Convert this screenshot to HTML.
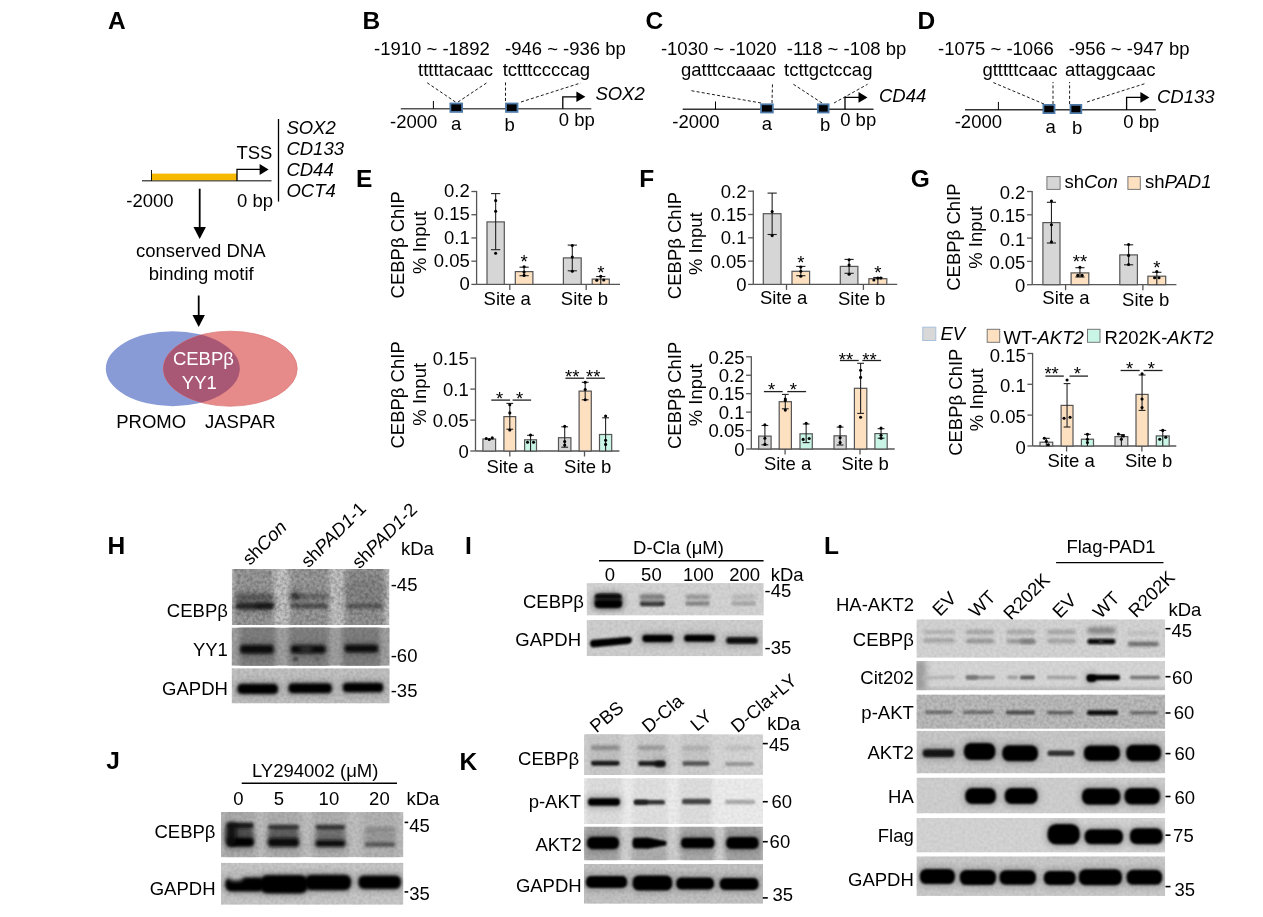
<!DOCTYPE html>
<html><head><meta charset="utf-8"><style>
html,body{margin:0;padding:0;background:#fff;width:1263px;height:917px;overflow:hidden}
svg{display:block;font-family:"Liberation Sans",sans-serif;will-change:transform}
</style></head><body>
<svg width="1263" height="917" viewBox="0 0 1263 917">
<text x="108.00" y="28.70" font-size="24.5" font-weight="bold" >A</text>
<line x1="142.00" y1="180.80" x2="271.50" y2="180.80" stroke="#555" stroke-width="1.4"/>
<rect x="151.50" y="173.60" width="85.50" height="6.60" fill="#f6b900"/>
<line x1="151.50" y1="170.00" x2="151.50" y2="181.00" stroke="#000" stroke-width="0.9"/>
<path d="M237.00 181.00 V169.40 H260.60" fill="none" stroke="#000" stroke-width="1.3"/>
<path d="M259.60 163.90 L268.60 169.40 L259.60 174.90 Z" fill="#000"/>
<text x="236.40" y="159.00" font-size="18.5" >TSS</text>
<line x1="278.50" y1="119.00" x2="278.50" y2="201.60" stroke="#000" stroke-width="1.3"/>
<text x="286.40" y="133.70" font-size="18.5" font-style="italic" >SOX2</text>
<text x="286.40" y="155.20" font-size="18.5" font-style="italic" >CD133</text>
<text x="286.40" y="176.40" font-size="18.5" font-style="italic" >CD44</text>
<text x="286.40" y="197.40" font-size="18.5" font-style="italic" >OCT4</text>
<text x="126.30" y="206.50" font-size="18.5" >-2000</text>
<text x="237.00" y="206.50" font-size="18.5" >0 bp</text>
<line x1="199.70" y1="188.70" x2="199.70" y2="228.00" stroke="#000" stroke-width="1.8"/>
<path d="M193.50 227.00 L205.90 227.00 L199.70 239.00 Z" fill="#000"/>
<text x="200.80" y="256.70" font-size="18.5" text-anchor="middle" >conserved DNA</text>
<text x="201.20" y="279.60" font-size="18.5" text-anchor="middle" >binding motif</text>
<line x1="198.70" y1="295.50" x2="198.70" y2="316.00" stroke="#000" stroke-width="1.8"/>
<path d="M192.50 315.00 L204.90 315.00 L198.70 327.00 Z" fill="#000"/>
<defs><clipPath id="cpBlue"><ellipse cx="172.8" cy="368.7" rx="67" ry="37.5"/></clipPath></defs>
<ellipse cx="172.8" cy="368.7" rx="67" ry="37.5" fill="#899bd6"/>
<ellipse cx="230.2" cy="368.7" rx="67" ry="37.5" fill="#e68a8a" stroke="#dd7c7c" stroke-width="0.8"/>
<ellipse cx="230.2" cy="368.7" rx="67" ry="37.5" fill="#a85775" clip-path="url(#cpBlue)"/>
<text x="203.40" y="364.90" font-size="18.5" text-anchor="middle" fill="#fff" >CEBPβ</text>
<text x="199.30" y="388.70" font-size="18.5" text-anchor="middle" fill="#fff" >YY1</text>
<text x="116.20" y="428.20" font-size="18.5" >PROMO</text>
<text x="205.00" y="428.20" font-size="18.5" >JASPAR</text>
<text x="362.60" y="28.70" font-size="24.5" font-weight="bold" >B</text>
<text x="374.00" y="54.50" font-size="18.5" >-1910 ~ -1892</text>
<text x="505.00" y="54.50" font-size="18.5" >-946 ~ -936 bp</text>
<text x="418.00" y="75.50" font-size="18.5" >tttttacaac</text>
<text x="502.70" y="75.50" font-size="18.5" >tctttccccag</text>
<line x1="400.80" y1="108.80" x2="591.30" y2="108.80" stroke="#555" stroke-width="1.4"/>
<line x1="433.40" y1="101.00" x2="433.40" y2="108.80" stroke="#000" stroke-width="1.0"/>
<line x1="455.50" y1="102.00" x2="426.00" y2="82.00" stroke="#000" stroke-width="0.9" stroke-dasharray="3,2.2"/>
<line x1="458.00" y1="102.00" x2="488.00" y2="82.00" stroke="#000" stroke-width="0.9" stroke-dasharray="3,2.2"/>
<line x1="505.50" y1="101.00" x2="505.50" y2="82.00" stroke="#000" stroke-width="0.9" stroke-dasharray="3,2.2"/>
<line x1="521.00" y1="102.00" x2="580.70" y2="83.00" stroke="#000" stroke-width="0.9" stroke-dasharray="3,2.2"/>
<rect x="450.40" y="103.50" width="11.70" height="8.40" fill="#000" stroke="#4d79a8" stroke-width="1.8"/>
<rect x="506.00" y="103.50" width="11.50" height="8.40" fill="#000" stroke="#4d79a8" stroke-width="1.8"/>
<path d="M562.80 108.80 V96.80 H577.40" fill="none" stroke="#000" stroke-width="1.3"/>
<path d="M576.40 91.50 L585.40 96.80 L576.40 102.10 Z" fill="#000"/>
<text x="595.40" y="99.80" font-size="18.5" font-style="italic" >SOX2</text>
<text x="390.00" y="128.30" font-size="18.5" >-2000</text>
<text x="451.00" y="129.50" font-size="18.5" >a</text>
<text x="504.60" y="130.60" font-size="18.5" >b</text>
<text x="558.80" y="125.90" font-size="18.5" >0 bp</text>
<text x="645.40" y="28.70" font-size="24.5" font-weight="bold" >C</text>
<text x="660.90" y="54.50" font-size="18.5" >-1030 ~ -1020</text>
<text x="786.80" y="54.50" font-size="18.5" >-118 ~ -108 bp</text>
<text x="681.00" y="75.50" font-size="18.5" >gatttccaaac</text>
<text x="784.00" y="75.50" font-size="18.5" >tcttgctccag</text>
<line x1="682.70" y1="109.30" x2="873.50" y2="109.30" stroke="#333" stroke-width="1.4"/>
<line x1="715.50" y1="101.50" x2="715.50" y2="109.30" stroke="#000" stroke-width="1.0"/>
<line x1="761.00" y1="103.00" x2="691.30" y2="90.70" stroke="#000" stroke-width="0.9" stroke-dasharray="3,2.2"/>
<line x1="772.00" y1="103.00" x2="772.50" y2="83.60" stroke="#000" stroke-width="0.9" stroke-dasharray="3,2.2"/>
<line x1="822.00" y1="103.00" x2="791.50" y2="83.00" stroke="#000" stroke-width="0.9" stroke-dasharray="3,2.2"/>
<line x1="834.00" y1="103.00" x2="867.50" y2="84.30" stroke="#000" stroke-width="0.9" stroke-dasharray="3,2.2"/>
<rect x="761.10" y="104.30" width="11.70" height="8.20" fill="#000" stroke="#4d79a8" stroke-width="1.8"/>
<rect x="817.90" y="104.30" width="10.70" height="8.20" fill="#000" stroke="#4d79a8" stroke-width="1.8"/>
<path d="M845.00 109.30 V97.40 H859.50" fill="none" stroke="#000" stroke-width="1.3"/>
<path d="M858.50 92.10 L867.50 97.40 L858.50 102.70 Z" fill="#000"/>
<text x="879.00" y="102.00" font-size="18.5" font-style="italic" >CD44</text>
<text x="672.30" y="128.30" font-size="18.5" >-2000</text>
<text x="761.80" y="130.00" font-size="18.5" >a</text>
<text x="820.00" y="131.00" font-size="18.5" >b</text>
<text x="840.20" y="126.00" font-size="18.5" >0 bp</text>
<text x="917.60" y="28.70" font-size="24.5" font-weight="bold" >D</text>
<text x="938.00" y="54.50" font-size="18.5" >-1075 ~ -1066</text>
<text x="1068.70" y="54.50" font-size="18.5" >-956 ~ -947 bp</text>
<text x="982.40" y="75.50" font-size="18.5" >gtttttcaac</text>
<text x="1064.90" y="75.50" font-size="18.5" >attaggcaac</text>
<line x1="965.00" y1="109.70" x2="1155.80" y2="109.70" stroke="#333" stroke-width="1.4"/>
<line x1="998.40" y1="101.90" x2="998.40" y2="109.70" stroke="#000" stroke-width="1.0"/>
<line x1="1044.00" y1="104.00" x2="992.00" y2="82.00" stroke="#000" stroke-width="0.9" stroke-dasharray="3,2.2"/>
<line x1="1053.00" y1="104.00" x2="1053.00" y2="82.00" stroke="#000" stroke-width="0.9" stroke-dasharray="3,2.2"/>
<line x1="1069.60" y1="104.00" x2="1069.60" y2="82.00" stroke="#000" stroke-width="0.9" stroke-dasharray="3,2.2"/>
<line x1="1087.00" y1="102.00" x2="1145.00" y2="83.60" stroke="#000" stroke-width="0.9" stroke-dasharray="3,2.2"/>
<rect x="1043.40" y="104.90" width="11.10" height="8.20" fill="#000" stroke="#4d79a8" stroke-width="1.8"/>
<rect x="1070.50" y="104.90" width="10.80" height="8.20" fill="#000" stroke="#4d79a8" stroke-width="1.8"/>
<path d="M1126.60 109.70 V97.40 H1141.40" fill="none" stroke="#000" stroke-width="1.3"/>
<path d="M1140.40 92.10 L1149.40 97.40 L1140.40 102.70 Z" fill="#000"/>
<text x="1157.00" y="103.30" font-size="18.5" font-style="italic" >CD133</text>
<text x="954.70" y="128.30" font-size="18.5" >-2000</text>
<text x="1045.40" y="133.00" font-size="18.5" >a</text>
<text x="1072.00" y="134.00" font-size="18.5" >b</text>
<text x="1123.30" y="127.50" font-size="18.5" >0 bp</text>
<text x="356.00" y="186.60" font-size="24.5" font-weight="bold" >E</text>
<line x1="476.60" y1="190.90" x2="476.60" y2="284.40" stroke="#555" stroke-width="1.3"/>
<line x1="476.60" y1="284.40" x2="620.00" y2="284.40" stroke="#555" stroke-width="1.3"/>
<line x1="471.40" y1="191.50" x2="476.60" y2="191.50" stroke="#555" stroke-width="1.3"/>
<text x="469.80" y="197.10" font-size="18.5" text-anchor="end" >0.2</text>
<line x1="471.40" y1="214.72" x2="476.60" y2="214.72" stroke="#555" stroke-width="1.3"/>
<text x="469.80" y="220.32" font-size="18.5" text-anchor="end" >0.15</text>
<line x1="471.40" y1="237.95" x2="476.60" y2="237.95" stroke="#555" stroke-width="1.3"/>
<text x="469.80" y="243.55" font-size="18.5" text-anchor="end" >0.1</text>
<line x1="471.40" y1="261.18" x2="476.60" y2="261.18" stroke="#555" stroke-width="1.3"/>
<text x="469.80" y="266.78" font-size="18.5" text-anchor="end" >0.05</text>
<line x1="471.40" y1="284.40" x2="476.60" y2="284.40" stroke="#555" stroke-width="1.3"/>
<text x="469.80" y="290.00" font-size="18.5" text-anchor="end" >0</text>
<line x1="509.80" y1="284.40" x2="509.80" y2="289.90" stroke="#555" stroke-width="1.3"/>
<line x1="586.20" y1="284.40" x2="586.20" y2="289.90" stroke="#555" stroke-width="1.3"/>
<rect x="487.00" y="221.90" width="17.30" height="62.50" fill="#d6d6d6" stroke="#555" stroke-width="1.2"/>
<line x1="495.65" y1="193.60" x2="495.65" y2="249.70" stroke="#222" stroke-width="1.1"/>
<line x1="491.05" y1="193.60" x2="500.25" y2="193.60" stroke="#222" stroke-width="1.1"/>
<line x1="491.05" y1="249.70" x2="500.25" y2="249.70" stroke="#222" stroke-width="1.1"/>
<circle cx="495.65" cy="200.60" r="1.55" fill="#000"/>
<circle cx="495.65" cy="211.30" r="1.55" fill="#000"/>
<circle cx="495.65" cy="253.30" r="1.55" fill="#000"/>
<rect x="515.30" y="271.60" width="17.60" height="12.80" fill="#fde0c0" stroke="#555" stroke-width="1.2"/>
<line x1="524.10" y1="267.20" x2="524.10" y2="275.70" stroke="#222" stroke-width="1.1"/>
<line x1="519.50" y1="267.20" x2="528.70" y2="267.20" stroke="#222" stroke-width="1.1"/>
<line x1="519.50" y1="275.70" x2="528.70" y2="275.70" stroke="#222" stroke-width="1.1"/>
<circle cx="524.10" cy="266.70" r="1.55" fill="#000"/>
<circle cx="524.10" cy="272.10" r="1.55" fill="#000"/>
<circle cx="524.10" cy="275.40" r="1.55" fill="#000"/>
<text x="524.10" y="267.50" font-size="18.5" text-anchor="middle" >*</text>
<rect x="563.40" y="257.90" width="17.80" height="26.50" fill="#d6d6d6" stroke="#555" stroke-width="1.2"/>
<line x1="572.30" y1="245.10" x2="572.30" y2="270.80" stroke="#222" stroke-width="1.1"/>
<line x1="567.70" y1="245.10" x2="576.90" y2="245.10" stroke="#222" stroke-width="1.1"/>
<line x1="567.70" y1="270.80" x2="576.90" y2="270.80" stroke="#222" stroke-width="1.1"/>
<circle cx="572.30" cy="245.50" r="1.55" fill="#000"/>
<circle cx="572.30" cy="257.10" r="1.55" fill="#000"/>
<circle cx="572.30" cy="271.30" r="1.55" fill="#000"/>
<rect x="592.20" y="279.10" width="17.10" height="5.30" fill="#fde0c0" stroke="#555" stroke-width="1.2"/>
<line x1="600.75" y1="276.50" x2="600.75" y2="284.40" stroke="#222" stroke-width="1.1"/>
<line x1="596.15" y1="276.50" x2="605.35" y2="276.50" stroke="#222" stroke-width="1.1"/>
<circle cx="596.75" cy="280.30" r="1.55" fill="#000"/>
<circle cx="600.75" cy="276.20" r="1.55" fill="#000"/>
<circle cx="603.75" cy="280.00" r="1.55" fill="#000"/>
<text x="600.75" y="279.30" font-size="18.5" text-anchor="middle" >*</text>
<text x="483.60" y="304.80" font-size="18.5" >Site a</text>
<text x="560.80" y="304.80" font-size="18.5" >Site b</text>
<text x="403.60" y="244.80" font-size="18.5" text-anchor="middle" transform="rotate(-90 403.60 244.80)" >CEBPβ ChIP</text>
<text x="425.80" y="242.50" font-size="18.5" text-anchor="middle" transform="rotate(-90 425.80 242.50)" >% Input</text>
<line x1="475.50" y1="357.50" x2="475.50" y2="451.00" stroke="#555" stroke-width="1.3"/>
<line x1="475.50" y1="451.00" x2="619.40" y2="451.00" stroke="#555" stroke-width="1.3"/>
<line x1="470.30" y1="358.10" x2="475.50" y2="358.10" stroke="#555" stroke-width="1.3"/>
<text x="468.70" y="365.10" font-size="18.5" text-anchor="end" >0.15</text>
<line x1="470.30" y1="389.10" x2="475.50" y2="389.10" stroke="#555" stroke-width="1.3"/>
<text x="468.70" y="396.10" font-size="18.5" text-anchor="end" >0.1</text>
<line x1="470.30" y1="420.10" x2="475.50" y2="420.10" stroke="#555" stroke-width="1.3"/>
<text x="468.70" y="427.10" font-size="18.5" text-anchor="end" >0.05</text>
<line x1="470.30" y1="451.00" x2="475.50" y2="451.00" stroke="#555" stroke-width="1.3"/>
<text x="468.70" y="458.00" font-size="18.5" text-anchor="end" >0</text>
<line x1="509.80" y1="451.00" x2="509.80" y2="456.50" stroke="#555" stroke-width="1.3"/>
<line x1="584.50" y1="451.00" x2="584.50" y2="456.50" stroke="#555" stroke-width="1.3"/>
<rect x="482.90" y="439.00" width="12.70" height="12.00" fill="#d6d6d6" stroke="#555" stroke-width="1.2"/>
<circle cx="486.25" cy="438.50" r="1.55" fill="#000"/>
<circle cx="489.25" cy="439.50" r="1.55" fill="#000"/>
<circle cx="492.25" cy="437.90" r="1.55" fill="#000"/>
<rect x="503.90" y="416.60" width="11.80" height="34.40" fill="#fde0c0" stroke="#555" stroke-width="1.2"/>
<line x1="509.80" y1="403.40" x2="509.80" y2="429.20" stroke="#222" stroke-width="1.1"/>
<line x1="506.40" y1="403.40" x2="513.20" y2="403.40" stroke="#222" stroke-width="1.1"/>
<line x1="506.40" y1="429.20" x2="513.20" y2="429.20" stroke="#222" stroke-width="1.1"/>
<circle cx="509.80" cy="404.70" r="1.55" fill="#000"/>
<circle cx="509.80" cy="412.90" r="1.55" fill="#000"/>
<circle cx="509.80" cy="430.00" r="1.55" fill="#000"/>
<rect x="524.60" y="439.80" width="11.90" height="11.20" fill="#c8f5e6" stroke="#555" stroke-width="1.2"/>
<line x1="530.55" y1="435.30" x2="530.55" y2="451.00" stroke="#222" stroke-width="1.1"/>
<line x1="527.15" y1="435.30" x2="533.95" y2="435.30" stroke="#222" stroke-width="1.1"/>
<circle cx="530.55" cy="435.00" r="1.55" fill="#000"/>
<circle cx="527.55" cy="442.30" r="1.55" fill="#000"/>
<circle cx="533.55" cy="442.30" r="1.55" fill="#000"/>
<rect x="558.50" y="437.70" width="12.40" height="13.30" fill="#d6d6d6" stroke="#555" stroke-width="1.2"/>
<line x1="564.70" y1="426.80" x2="564.70" y2="447.20" stroke="#222" stroke-width="1.1"/>
<line x1="561.30" y1="426.80" x2="568.10" y2="426.80" stroke="#222" stroke-width="1.1"/>
<line x1="561.30" y1="447.20" x2="568.10" y2="447.20" stroke="#222" stroke-width="1.1"/>
<circle cx="564.70" cy="426.30" r="1.55" fill="#000"/>
<circle cx="564.70" cy="441.50" r="1.55" fill="#000"/>
<circle cx="564.70" cy="445.10" r="1.55" fill="#000"/>
<rect x="579.10" y="391.10" width="12.20" height="59.90" fill="#fde0c0" stroke="#555" stroke-width="1.2"/>
<line x1="585.20" y1="382.30" x2="585.20" y2="399.80" stroke="#222" stroke-width="1.1"/>
<line x1="581.80" y1="382.30" x2="588.60" y2="382.30" stroke="#222" stroke-width="1.1"/>
<line x1="581.80" y1="399.80" x2="588.60" y2="399.80" stroke="#222" stroke-width="1.1"/>
<circle cx="585.20" cy="382.30" r="1.55" fill="#000"/>
<circle cx="585.20" cy="389.50" r="1.55" fill="#000"/>
<circle cx="585.20" cy="399.80" r="1.55" fill="#000"/>
<rect x="599.50" y="434.50" width="12.20" height="16.50" fill="#c8f5e6" stroke="#555" stroke-width="1.2"/>
<line x1="605.60" y1="417.80" x2="605.60" y2="451.00" stroke="#222" stroke-width="1.1"/>
<line x1="602.20" y1="417.80" x2="609.00" y2="417.80" stroke="#222" stroke-width="1.1"/>
<circle cx="605.60" cy="416.10" r="1.55" fill="#000"/>
<circle cx="605.60" cy="440.20" r="1.55" fill="#000"/>
<circle cx="605.60" cy="444.40" r="1.55" fill="#000"/>
<line x1="491.30" y1="400.10" x2="510.10" y2="400.10" stroke="#222" stroke-width="1.3"/>
<text x="499.50" y="404.80" font-size="18.5" text-anchor="middle" >*</text>
<line x1="512.60" y1="400.10" x2="531.10" y2="400.10" stroke="#222" stroke-width="1.3"/>
<text x="519.60" y="404.80" font-size="18.5" text-anchor="middle" >*</text>
<line x1="565.40" y1="378.20" x2="584.20" y2="378.20" stroke="#222" stroke-width="1.3"/>
<text x="572.30" y="383.10" font-size="18.5" text-anchor="middle" >**</text>
<line x1="586.20" y1="378.20" x2="605.00" y2="378.20" stroke="#222" stroke-width="1.3"/>
<text x="593.20" y="383.10" font-size="18.5" text-anchor="middle" >**</text>
<text x="486.40" y="473.40" font-size="18.5" >Site a</text>
<text x="564.10" y="473.40" font-size="18.5" >Site b</text>
<text x="403.60" y="394.90" font-size="18.5" text-anchor="middle" transform="rotate(-90 403.60 394.90)" >CEBPβ ChIP</text>
<text x="425.80" y="394.30" font-size="18.5" text-anchor="middle" transform="rotate(-90 425.80 394.30)" >% Input</text>
<text x="639.30" y="186.60" font-size="24.5" font-weight="bold" >F</text>
<line x1="753.30" y1="190.60" x2="753.30" y2="284.40" stroke="#555" stroke-width="1.3"/>
<line x1="753.30" y1="284.40" x2="897.20" y2="284.40" stroke="#555" stroke-width="1.3"/>
<line x1="748.10" y1="191.20" x2="753.30" y2="191.20" stroke="#555" stroke-width="1.3"/>
<text x="746.50" y="197.70" font-size="18.5" text-anchor="end" >0.2</text>
<line x1="748.10" y1="214.50" x2="753.30" y2="214.50" stroke="#555" stroke-width="1.3"/>
<text x="746.50" y="221.00" font-size="18.5" text-anchor="end" >0.15</text>
<line x1="748.10" y1="237.80" x2="753.30" y2="237.80" stroke="#555" stroke-width="1.3"/>
<text x="746.50" y="244.30" font-size="18.5" text-anchor="end" >0.1</text>
<line x1="748.10" y1="261.10" x2="753.30" y2="261.10" stroke="#555" stroke-width="1.3"/>
<text x="746.50" y="267.60" font-size="18.5" text-anchor="end" >0.05</text>
<line x1="748.10" y1="284.40" x2="753.30" y2="284.40" stroke="#555" stroke-width="1.3"/>
<text x="746.50" y="290.90" font-size="18.5" text-anchor="end" >0</text>
<line x1="786.50" y1="284.40" x2="786.50" y2="289.90" stroke="#555" stroke-width="1.3"/>
<line x1="863.40" y1="284.40" x2="863.40" y2="289.90" stroke="#555" stroke-width="1.3"/>
<rect x="763.30" y="213.70" width="17.70" height="70.70" fill="#d6d6d6" stroke="#555" stroke-width="1.2"/>
<line x1="772.15" y1="193.10" x2="772.15" y2="234.50" stroke="#222" stroke-width="1.1"/>
<line x1="767.55" y1="193.10" x2="776.75" y2="193.10" stroke="#222" stroke-width="1.1"/>
<line x1="767.55" y1="234.50" x2="776.75" y2="234.50" stroke="#222" stroke-width="1.1"/>
<circle cx="772.15" cy="211.60" r="1.55" fill="#000"/>
<circle cx="772.15" cy="235.60" r="1.55" fill="#000"/>
<rect x="792.00" y="271.30" width="17.60" height="13.10" fill="#fde0c0" stroke="#555" stroke-width="1.2"/>
<line x1="800.80" y1="266.40" x2="800.80" y2="275.70" stroke="#222" stroke-width="1.1"/>
<line x1="796.20" y1="266.40" x2="805.40" y2="266.40" stroke="#222" stroke-width="1.1"/>
<line x1="796.20" y1="275.70" x2="805.40" y2="275.70" stroke="#222" stroke-width="1.1"/>
<circle cx="800.80" cy="267.00" r="1.55" fill="#000"/>
<circle cx="800.80" cy="271.30" r="1.55" fill="#000"/>
<circle cx="800.80" cy="276.20" r="1.55" fill="#000"/>
<text x="800.80" y="269.30" font-size="18.5" text-anchor="middle" >*</text>
<rect x="840.30" y="266.40" width="17.60" height="18.00" fill="#d6d6d6" stroke="#555" stroke-width="1.2"/>
<line x1="849.10" y1="259.40" x2="849.10" y2="273.30" stroke="#222" stroke-width="1.1"/>
<line x1="844.50" y1="259.40" x2="853.70" y2="259.40" stroke="#222" stroke-width="1.1"/>
<line x1="844.50" y1="273.30" x2="853.70" y2="273.30" stroke="#222" stroke-width="1.1"/>
<circle cx="849.10" cy="259.80" r="1.55" fill="#000"/>
<circle cx="849.10" cy="265.10" r="1.55" fill="#000"/>
<circle cx="849.10" cy="274.20" r="1.55" fill="#000"/>
<rect x="868.90" y="278.70" width="17.90" height="5.70" fill="#fde0c0" stroke="#555" stroke-width="1.2"/>
<line x1="877.85" y1="277.50" x2="877.85" y2="284.40" stroke="#222" stroke-width="1.1"/>
<line x1="873.25" y1="277.50" x2="882.45" y2="277.50" stroke="#222" stroke-width="1.1"/>
<circle cx="873.85" cy="280.00" r="1.55" fill="#000"/>
<circle cx="877.85" cy="278.00" r="1.55" fill="#000"/>
<circle cx="880.85" cy="278.00" r="1.55" fill="#000"/>
<text x="877.85" y="279.40" font-size="18.5" text-anchor="middle" >*</text>
<text x="759.90" y="304.00" font-size="18.5" >Site a</text>
<text x="838.00" y="305.30" font-size="18.5" >Site b</text>
<text x="680.60" y="245.50" font-size="18.5" text-anchor="middle" transform="rotate(-90 680.60 245.50)" >CEBPβ ChIP</text>
<text x="702.40" y="243.70" font-size="18.5" text-anchor="middle" transform="rotate(-90 702.40 243.70)" >% Input</text>
<line x1="751.30" y1="356.20" x2="751.30" y2="449.00" stroke="#555" stroke-width="1.3"/>
<line x1="751.30" y1="449.00" x2="894.70" y2="449.00" stroke="#555" stroke-width="1.3"/>
<line x1="746.10" y1="356.80" x2="751.30" y2="356.80" stroke="#555" stroke-width="1.3"/>
<text x="744.50" y="363.60" font-size="18.5" text-anchor="end" >0.25</text>
<line x1="746.10" y1="375.24" x2="751.30" y2="375.24" stroke="#555" stroke-width="1.3"/>
<text x="744.50" y="382.04" font-size="18.5" text-anchor="end" >0.2</text>
<line x1="746.10" y1="393.68" x2="751.30" y2="393.68" stroke="#555" stroke-width="1.3"/>
<text x="744.50" y="400.48" font-size="18.5" text-anchor="end" >0.15</text>
<line x1="746.10" y1="412.12" x2="751.30" y2="412.12" stroke="#555" stroke-width="1.3"/>
<text x="744.50" y="418.92" font-size="18.5" text-anchor="end" >0.1</text>
<line x1="746.10" y1="430.56" x2="751.30" y2="430.56" stroke="#555" stroke-width="1.3"/>
<text x="744.50" y="437.36" font-size="18.5" text-anchor="end" >0.05</text>
<line x1="746.10" y1="449.00" x2="751.30" y2="449.00" stroke="#555" stroke-width="1.3"/>
<text x="744.50" y="455.80" font-size="18.5" text-anchor="end" >0</text>
<line x1="785.10" y1="449.00" x2="785.10" y2="454.50" stroke="#555" stroke-width="1.3"/>
<line x1="860.00" y1="449.00" x2="860.00" y2="454.50" stroke="#555" stroke-width="1.3"/>
<rect x="758.70" y="436.10" width="12.40" height="12.90" fill="#d6d6d6" stroke="#555" stroke-width="1.2"/>
<line x1="764.90" y1="425.50" x2="764.90" y2="444.80" stroke="#222" stroke-width="1.1"/>
<line x1="761.50" y1="425.50" x2="768.30" y2="425.50" stroke="#222" stroke-width="1.1"/>
<line x1="761.50" y1="444.80" x2="768.30" y2="444.80" stroke="#222" stroke-width="1.1"/>
<circle cx="764.90" cy="424.80" r="1.55" fill="#000"/>
<circle cx="764.90" cy="438.20" r="1.55" fill="#000"/>
<circle cx="764.90" cy="444.40" r="1.55" fill="#000"/>
<rect x="779.20" y="401.70" width="12.20" height="47.30" fill="#fde0c0" stroke="#555" stroke-width="1.2"/>
<line x1="785.30" y1="394.40" x2="785.30" y2="408.80" stroke="#222" stroke-width="1.1"/>
<line x1="781.90" y1="394.40" x2="788.70" y2="394.40" stroke="#222" stroke-width="1.1"/>
<line x1="781.90" y1="408.80" x2="788.70" y2="408.80" stroke="#222" stroke-width="1.1"/>
<circle cx="785.30" cy="399.00" r="1.55" fill="#000"/>
<circle cx="785.30" cy="400.60" r="1.55" fill="#000"/>
<circle cx="785.30" cy="410.10" r="1.55" fill="#000"/>
<rect x="800.00" y="433.80" width="12.30" height="15.20" fill="#c8f5e6" stroke="#555" stroke-width="1.2"/>
<line x1="806.15" y1="424.00" x2="806.15" y2="442.60" stroke="#222" stroke-width="1.1"/>
<line x1="802.75" y1="424.00" x2="809.55" y2="424.00" stroke="#222" stroke-width="1.1"/>
<line x1="802.75" y1="442.60" x2="809.55" y2="442.60" stroke="#222" stroke-width="1.1"/>
<circle cx="806.15" cy="423.20" r="1.55" fill="#000"/>
<circle cx="803.15" cy="439.40" r="1.55" fill="#000"/>
<circle cx="809.15" cy="438.50" r="1.55" fill="#000"/>
<rect x="834.00" y="435.80" width="12.20" height="13.20" fill="#d6d6d6" stroke="#555" stroke-width="1.2"/>
<line x1="840.10" y1="427.10" x2="840.10" y2="445.00" stroke="#222" stroke-width="1.1"/>
<line x1="836.70" y1="427.10" x2="843.50" y2="427.10" stroke="#222" stroke-width="1.1"/>
<line x1="836.70" y1="445.00" x2="843.50" y2="445.00" stroke="#222" stroke-width="1.1"/>
<circle cx="840.10" cy="426.40" r="1.55" fill="#000"/>
<circle cx="840.10" cy="437.70" r="1.55" fill="#000"/>
<circle cx="840.10" cy="442.60" r="1.55" fill="#000"/>
<rect x="854.40" y="388.30" width="12.40" height="60.70" fill="#fde0c0" stroke="#555" stroke-width="1.2"/>
<line x1="860.60" y1="363.30" x2="860.60" y2="413.40" stroke="#222" stroke-width="1.1"/>
<line x1="857.20" y1="363.30" x2="864.00" y2="363.30" stroke="#222" stroke-width="1.1"/>
<line x1="857.20" y1="413.40" x2="864.00" y2="413.40" stroke="#222" stroke-width="1.1"/>
<circle cx="860.60" cy="370.30" r="1.55" fill="#000"/>
<circle cx="860.60" cy="377.40" r="1.55" fill="#000"/>
<circle cx="860.60" cy="417.30" r="1.55" fill="#000"/>
<rect x="874.90" y="433.60" width="12.30" height="15.40" fill="#c8f5e6" stroke="#555" stroke-width="1.2"/>
<line x1="881.05" y1="428.70" x2="881.05" y2="438.20" stroke="#222" stroke-width="1.1"/>
<line x1="877.65" y1="428.70" x2="884.45" y2="428.70" stroke="#222" stroke-width="1.1"/>
<line x1="877.65" y1="438.20" x2="884.45" y2="438.20" stroke="#222" stroke-width="1.1"/>
<circle cx="881.05" cy="428.10" r="1.55" fill="#000"/>
<circle cx="881.05" cy="435.30" r="1.55" fill="#000"/>
<circle cx="881.05" cy="438.20" r="1.55" fill="#000"/>
<line x1="763.90" y1="391.60" x2="782.70" y2="391.60" stroke="#222" stroke-width="1.3"/>
<text x="771.70" y="395.70" font-size="18.5" text-anchor="middle" >*</text>
<line x1="787.30" y1="391.60" x2="806.10" y2="391.60" stroke="#222" stroke-width="1.3"/>
<text x="793.30" y="395.70" font-size="18.5" text-anchor="middle" >*</text>
<line x1="839.90" y1="360.50" x2="858.70" y2="360.50" stroke="#222" stroke-width="1.3"/>
<text x="846.00" y="365.70" font-size="18.5" text-anchor="middle" >**</text>
<line x1="862.30" y1="360.50" x2="881.10" y2="360.50" stroke="#222" stroke-width="1.3"/>
<text x="869.40" y="365.70" font-size="18.5" text-anchor="middle" >**</text>
<text x="763.90" y="470.10" font-size="18.5" >Site a</text>
<text x="841.50" y="470.10" font-size="18.5" >Site b</text>
<text x="680.60" y="395.40" font-size="18.5" text-anchor="middle" transform="rotate(-90 680.60 395.40)" >CEBPβ ChIP</text>
<text x="702.40" y="394.90" font-size="18.5" text-anchor="middle" transform="rotate(-90 702.40 394.90)" >% Input</text>
<text x="910.80" y="186.60" font-size="24.5" font-weight="bold" >G</text>
<line x1="1032.20" y1="190.90" x2="1032.20" y2="284.70" stroke="#555" stroke-width="1.3"/>
<line x1="1032.20" y1="284.70" x2="1176.40" y2="284.70" stroke="#555" stroke-width="1.3"/>
<line x1="1027.00" y1="191.50" x2="1032.20" y2="191.50" stroke="#555" stroke-width="1.3"/>
<text x="1025.40" y="199.00" font-size="18.5" text-anchor="end" >0.2</text>
<line x1="1027.00" y1="214.80" x2="1032.20" y2="214.80" stroke="#555" stroke-width="1.3"/>
<text x="1025.40" y="222.30" font-size="18.5" text-anchor="end" >0.15</text>
<line x1="1027.00" y1="238.10" x2="1032.20" y2="238.10" stroke="#555" stroke-width="1.3"/>
<text x="1025.40" y="245.60" font-size="18.5" text-anchor="end" >0.1</text>
<line x1="1027.00" y1="261.40" x2="1032.20" y2="261.40" stroke="#555" stroke-width="1.3"/>
<text x="1025.40" y="268.90" font-size="18.5" text-anchor="end" >0.05</text>
<line x1="1027.00" y1="284.70" x2="1032.20" y2="284.70" stroke="#555" stroke-width="1.3"/>
<text x="1025.40" y="292.20" font-size="18.5" text-anchor="end" >0</text>
<line x1="1065.60" y1="284.70" x2="1065.60" y2="290.20" stroke="#555" stroke-width="1.3"/>
<line x1="1142.90" y1="284.70" x2="1142.90" y2="290.20" stroke="#555" stroke-width="1.3"/>
<rect x="1042.90" y="222.60" width="17.10" height="62.10" fill="#d6d6d6" stroke="#555" stroke-width="1.2"/>
<line x1="1051.45" y1="202.30" x2="1051.45" y2="243.00" stroke="#222" stroke-width="1.1"/>
<line x1="1046.85" y1="202.30" x2="1056.05" y2="202.30" stroke="#222" stroke-width="1.1"/>
<line x1="1046.85" y1="243.00" x2="1056.05" y2="243.00" stroke="#222" stroke-width="1.1"/>
<circle cx="1051.45" cy="201.00" r="1.55" fill="#000"/>
<circle cx="1051.45" cy="224.70" r="1.55" fill="#000"/>
<circle cx="1051.45" cy="241.90" r="1.55" fill="#000"/>
<rect x="1071.10" y="272.90" width="17.70" height="11.80" fill="#fde0c0" stroke="#555" stroke-width="1.2"/>
<line x1="1079.95" y1="267.70" x2="1079.95" y2="277.00" stroke="#222" stroke-width="1.1"/>
<line x1="1075.35" y1="267.70" x2="1084.55" y2="267.70" stroke="#222" stroke-width="1.1"/>
<line x1="1075.35" y1="277.00" x2="1084.55" y2="277.00" stroke="#222" stroke-width="1.1"/>
<circle cx="1079.95" cy="267.20" r="1.55" fill="#000"/>
<circle cx="1077.75" cy="275.40" r="1.55" fill="#000"/>
<circle cx="1082.15" cy="275.40" r="1.55" fill="#000"/>
<text x="1079.95" y="268.10" font-size="18.5" text-anchor="middle" >**</text>
<rect x="1119.80" y="254.90" width="17.60" height="29.80" fill="#d6d6d6" stroke="#555" stroke-width="1.2"/>
<line x1="1128.60" y1="244.80" x2="1128.60" y2="264.80" stroke="#222" stroke-width="1.1"/>
<line x1="1124.00" y1="244.80" x2="1133.20" y2="244.80" stroke="#222" stroke-width="1.1"/>
<line x1="1124.00" y1="264.80" x2="1133.20" y2="264.80" stroke="#222" stroke-width="1.1"/>
<circle cx="1128.60" cy="244.50" r="1.55" fill="#000"/>
<circle cx="1128.60" cy="255.40" r="1.55" fill="#000"/>
<circle cx="1128.60" cy="264.50" r="1.55" fill="#000"/>
<rect x="1147.90" y="276.20" width="17.80" height="8.50" fill="#fde0c0" stroke="#555" stroke-width="1.2"/>
<line x1="1156.80" y1="272.30" x2="1156.80" y2="284.70" stroke="#222" stroke-width="1.1"/>
<line x1="1152.20" y1="272.30" x2="1161.40" y2="272.30" stroke="#222" stroke-width="1.1"/>
<circle cx="1156.80" cy="271.60" r="1.55" fill="#000"/>
<circle cx="1154.60" cy="277.80" r="1.55" fill="#000"/>
<circle cx="1159.00" cy="277.80" r="1.55" fill="#000"/>
<text x="1156.80" y="273.50" font-size="18.5" text-anchor="middle" >*</text>
<text x="1042.30" y="304.00" font-size="18.5" >Site a</text>
<text x="1122.10" y="306.00" font-size="18.5" >Site b</text>
<text x="960.50" y="237.10" font-size="18.5" text-anchor="middle" transform="rotate(-90 960.50 237.10)" >CEBPβ ChIP</text>
<text x="982.50" y="237.40" font-size="18.5" text-anchor="middle" transform="rotate(-90 982.50 237.40)" >% Input</text>
<rect x="1046.90" y="176.60" width="13.20" height="12.80" fill="#d6d6d6" stroke="#777" stroke-width="1"/>
<text x="1064.4" y="188.4" font-size="18.5">sh<tspan font-style="italic">Con</tspan></text>
<rect x="1127.90" y="176.60" width="12.40" height="12.80" fill="#fde0c0" stroke="#777" stroke-width="1"/>
<text x="1145" y="188.4" font-size="18.5">sh<tspan font-style="italic">PAD1</tspan></text>
<line x1="1032.60" y1="352.90" x2="1032.60" y2="446.00" stroke="#555" stroke-width="1.3"/>
<line x1="1032.60" y1="446.00" x2="1176.30" y2="446.00" stroke="#555" stroke-width="1.3"/>
<line x1="1027.40" y1="353.50" x2="1032.60" y2="353.50" stroke="#555" stroke-width="1.3"/>
<text x="1025.80" y="361.50" font-size="18.5" text-anchor="end" >0.15</text>
<line x1="1027.40" y1="384.30" x2="1032.60" y2="384.30" stroke="#555" stroke-width="1.3"/>
<text x="1025.80" y="392.30" font-size="18.5" text-anchor="end" >0.1</text>
<line x1="1027.40" y1="415.10" x2="1032.60" y2="415.10" stroke="#555" stroke-width="1.3"/>
<text x="1025.80" y="423.10" font-size="18.5" text-anchor="end" >0.05</text>
<line x1="1027.40" y1="446.00" x2="1032.60" y2="446.00" stroke="#555" stroke-width="1.3"/>
<text x="1025.80" y="454.00" font-size="18.5" text-anchor="end" >0</text>
<line x1="1066.60" y1="446.00" x2="1066.60" y2="451.50" stroke="#555" stroke-width="1.3"/>
<line x1="1141.90" y1="446.00" x2="1141.90" y2="451.50" stroke="#555" stroke-width="1.3"/>
<rect x="1040.00" y="442.20" width="12.70" height="3.80" fill="#ececec" stroke="#555" stroke-width="1.2"/>
<line x1="1046.35" y1="438.30" x2="1046.35" y2="446.00" stroke="#222" stroke-width="1.1"/>
<line x1="1042.95" y1="438.30" x2="1049.75" y2="438.30" stroke="#222" stroke-width="1.1"/>
<circle cx="1044.35" cy="438.30" r="1.55" fill="#000"/>
<circle cx="1046.35" cy="441.20" r="1.55" fill="#000"/>
<circle cx="1048.35" cy="444.80" r="1.55" fill="#000"/>
<rect x="1061.10" y="405.40" width="11.90" height="40.60" fill="#fde0c0" stroke="#555" stroke-width="1.2"/>
<line x1="1067.05" y1="383.60" x2="1067.05" y2="427.00" stroke="#222" stroke-width="1.1"/>
<line x1="1063.65" y1="383.60" x2="1070.45" y2="383.60" stroke="#222" stroke-width="1.1"/>
<line x1="1063.65" y1="427.00" x2="1070.45" y2="427.00" stroke="#222" stroke-width="1.1"/>
<circle cx="1067.05" cy="380.00" r="1.55" fill="#000"/>
<circle cx="1064.05" cy="418.20" r="1.55" fill="#000"/>
<circle cx="1070.05" cy="417.30" r="1.55" fill="#000"/>
<rect x="1081.40" y="439.20" width="12.10" height="6.80" fill="#c8f5e6" stroke="#555" stroke-width="1.2"/>
<line x1="1087.45" y1="434.30" x2="1087.45" y2="446.00" stroke="#222" stroke-width="1.1"/>
<line x1="1084.05" y1="434.30" x2="1090.85" y2="434.30" stroke="#222" stroke-width="1.1"/>
<circle cx="1087.45" cy="434.30" r="1.55" fill="#000"/>
<circle cx="1087.45" cy="439.20" r="1.55" fill="#000"/>
<circle cx="1087.45" cy="442.50" r="1.55" fill="#000"/>
<rect x="1115.00" y="436.60" width="12.80" height="9.40" fill="#dddddd" stroke="#555" stroke-width="1.2"/>
<line x1="1121.40" y1="434.60" x2="1121.40" y2="446.00" stroke="#222" stroke-width="1.1"/>
<line x1="1118.00" y1="434.60" x2="1124.80" y2="434.60" stroke="#222" stroke-width="1.1"/>
<circle cx="1118.40" cy="434.00" r="1.55" fill="#000"/>
<circle cx="1123.40" cy="436.00" r="1.55" fill="#000"/>
<circle cx="1121.40" cy="439.20" r="1.55" fill="#000"/>
<rect x="1136.00" y="394.40" width="12.10" height="51.60" fill="#fde0c0" stroke="#555" stroke-width="1.2"/>
<line x1="1142.05" y1="375.00" x2="1142.05" y2="410.40" stroke="#222" stroke-width="1.1"/>
<line x1="1138.65" y1="375.00" x2="1145.45" y2="375.00" stroke="#222" stroke-width="1.1"/>
<line x1="1138.65" y1="410.40" x2="1145.45" y2="410.40" stroke="#222" stroke-width="1.1"/>
<circle cx="1142.05" cy="373.70" r="1.55" fill="#000"/>
<circle cx="1142.05" cy="399.00" r="1.55" fill="#000"/>
<circle cx="1142.05" cy="407.50" r="1.55" fill="#000"/>
<rect x="1156.30" y="435.90" width="12.90" height="10.10" fill="#c8f5e6" stroke="#555" stroke-width="1.2"/>
<line x1="1162.75" y1="430.40" x2="1162.75" y2="446.00" stroke="#222" stroke-width="1.1"/>
<line x1="1159.35" y1="430.40" x2="1166.15" y2="430.40" stroke="#222" stroke-width="1.1"/>
<circle cx="1162.75" cy="430.40" r="1.55" fill="#000"/>
<circle cx="1159.75" cy="439.20" r="1.55" fill="#000"/>
<circle cx="1165.75" cy="437.20" r="1.55" fill="#000"/>
<line x1="1045.40" y1="376.10" x2="1063.80" y2="376.10" stroke="#222" stroke-width="1.3"/>
<text x="1051.60" y="379.80" font-size="18.5" text-anchor="middle" >**</text>
<line x1="1069.50" y1="376.10" x2="1088.00" y2="376.10" stroke="#222" stroke-width="1.3"/>
<text x="1077.40" y="379.80" font-size="18.5" text-anchor="middle" >*</text>
<line x1="1120.60" y1="370.50" x2="1139.70" y2="370.50" stroke="#222" stroke-width="1.3"/>
<text x="1129.70" y="375.20" font-size="18.5" text-anchor="middle" >*</text>
<line x1="1143.60" y1="370.50" x2="1162.50" y2="370.50" stroke="#222" stroke-width="1.3"/>
<text x="1151.30" y="375.20" font-size="18.5" text-anchor="middle" >*</text>
<text x="1047.40" y="467.30" font-size="18.5" >Site a</text>
<text x="1124.90" y="467.30" font-size="18.5" >Site b</text>
<text x="962.30" y="402.20" font-size="18.5" text-anchor="middle" transform="rotate(-90 962.30 402.20)" >CEBPβ ChIP</text>
<text x="983.50" y="399.80" font-size="18.5" text-anchor="middle" transform="rotate(-90 983.50 399.80)" >% Input</text>
<rect x="922.80" y="327.20" width="13.00" height="13.30" fill="#d8d8d8" stroke="#a8c0dc" stroke-width="1"/>
<text x="940.40" y="340.10" font-size="18.5" font-style="italic" >EV</text>
<rect x="987.20" y="329.30" width="12.50" height="13.00" fill="#fde0c0" stroke="#777" stroke-width="1"/>
<text x="1003.6" y="343.5" font-size="18.5">WT-<tspan font-style="italic">AKT2</tspan></text>
<rect x="1087.50" y="329.30" width="12.50" height="13.00" fill="#c8f5e6" stroke="#777" stroke-width="1"/>
<text x="1104.6" y="343.5" font-size="18.5">R202K-<tspan font-style="italic">AKT2</tspan></text>
<defs>
<filter id="bl0_6" x="-50%" y="-50%" width="200%" height="200%"><feGaussianBlur stdDeviation="0.6"/></filter>
<filter id="bl1" x="-50%" y="-50%" width="200%" height="200%"><feGaussianBlur stdDeviation="1"/></filter>
<filter id="bl1_2" x="-50%" y="-50%" width="200%" height="200%"><feGaussianBlur stdDeviation="1.2"/></filter>
<filter id="bl1_5" x="-50%" y="-50%" width="200%" height="200%"><feGaussianBlur stdDeviation="1.5"/></filter>
<filter id="bl2" x="-50%" y="-50%" width="200%" height="200%"><feGaussianBlur stdDeviation="2"/></filter>
<filter id="bl3" x="-50%" y="-50%" width="200%" height="200%"><feGaussianBlur stdDeviation="3"/></filter>
<filter id="bl4" x="-50%" y="-50%" width="200%" height="200%"><feGaussianBlur stdDeviation="4"/></filter>
<filter id="bl6" x="-50%" y="-50%" width="200%" height="200%"><feGaussianBlur stdDeviation="6"/></filter>
<filter id="noise" x="0" y="0" width="100%" height="100%"><feTurbulence type="fractalNoise" baseFrequency="0.32" numOctaves="2" seed="3"/><feColorMatrix type="matrix" values="0 0 0 0 0  0 0 0 0 0  0 0 0 0 0  0 0 0 -1.6 1.1"/></filter>
</defs>
<text x="107.50" y="554.00" font-size="24.5" font-weight="bold" >H</text>
<text x="250.00" y="566.00" font-size="18.5" transform="rotate(-45 250.00 566.00)">sh<tspan font-style="italic">Con</tspan></text>
<text x="308.50" y="568.50" font-size="18.5" transform="rotate(-45 308.50 568.50)">sh<tspan font-style="italic">PAD1</tspan>-1</text>
<text x="359.50" y="569.50" font-size="18.5" transform="rotate(-45 359.50 569.50)">sh<tspan font-style="italic">PAD1</tspan>-2</text>
<text x="401.00" y="555.40" font-size="18.5" >kDa</text>
<clipPath id="cb1"><rect x="231.90" y="568.90" width="157.50" height="56.10"/></clipPath>
<g clip-path="url(#cb1)">
<rect x="231.90" y="568.90" width="157.50" height="56.10" fill="#c6c6c6"/>
<rect x="233.80" y="563.90" width="39.70" height="66.10" fill="#9c9c9c" opacity="1" filter="url(#bl2)"/>
<rect x="289.70" y="563.90" width="39.60" height="66.10" fill="#9c9c9c" opacity="1" filter="url(#bl2)"/>
<rect x="344.90" y="563.90" width="39.60" height="66.10" fill="#979797" opacity="1" filter="url(#bl2)"/>
<rect x="236.00" y="591.00" width="37.00" height="18.00" rx="7.56" fill="#777" opacity="0.85" filter="url(#bl3)"/>
<rect x="236.00" y="594.30" width="37.00" height="5.00" rx="2.10" fill="#5a5a5a" opacity="0.8" filter="url(#bl1_5)"/>
<rect x="234.00" y="600.40" width="41.50" height="11.00" rx="3.00" fill="#000" opacity="0.22" filter="url(#bl3)"/>
<rect x="236.00" y="602.90" width="37.50" height="6.00" rx="2.52" fill="#2a2a2a" opacity="1" filter="url(#bl1_5)"/>
<rect x="255.00" y="603.40" width="18.00" height="5.00" rx="2.10" fill="#111" opacity="0.6" filter="url(#bl1_5)"/>
<rect x="290.00" y="590.00" width="39.00" height="16.00" rx="6.72" fill="#888" opacity="0.7" filter="url(#bl3)"/>
<rect x="291.00" y="594.30" width="37.00" height="5.00" rx="2.10" fill="#6a6a6a" opacity="1" filter="url(#bl1_5)"/>
<rect x="290.00" y="590.50" width="11.00" height="11.00" rx="3.00" fill="#000" opacity="0.18" filter="url(#bl3)"/>
<rect x="292.00" y="593.00" width="7.00" height="6.00" rx="2.52" fill="#333" opacity="0.8" filter="url(#bl1_5)"/>
<rect x="291.00" y="603.40" width="37.00" height="5.00" rx="2.10" fill="#505050" opacity="1" filter="url(#bl1_5)"/>
<rect x="345.00" y="577.00" width="39.00" height="30.00" rx="12.60" fill="#858585" opacity="0.85" filter="url(#bl4)"/>
<rect x="346.00" y="603.40" width="37.00" height="5.00" rx="2.10" fill="#5a5a5a" opacity="1" filter="url(#bl1_5)"/>
<rect x="231.90" y="568.90" width="157.50" height="56.10" filter="url(#noise)" opacity="0.3"/>
</g>
<clipPath id="cb2"><rect x="231.60" y="627.60" width="158.10" height="38.20"/></clipPath>
<g clip-path="url(#cb2)">
<rect x="231.60" y="627.60" width="158.10" height="38.20" fill="#a2a2a2"/>
<rect x="239.70" y="622.60" width="35.70" height="48.20" fill="#808080" opacity="1" filter="url(#bl2)"/>
<rect x="289.00" y="622.60" width="39.60" height="48.20" fill="#828282" opacity="1" filter="url(#bl2)"/>
<rect x="342.30" y="622.60" width="37.70" height="48.20" fill="#808080" opacity="1" filter="url(#bl2)"/>
<rect x="238.30" y="642.55" width="37.20" height="13.50" rx="4.25" fill="#000" opacity="0.22" filter="url(#bl3)"/>
<rect x="240.30" y="645.05" width="33.20" height="8.50" rx="3.57" fill="#080808" opacity="1" filter="url(#bl1_5)"/>
<rect x="289.00" y="642.80" width="38.40" height="13.00" rx="4.00" fill="#000" opacity="0.22" filter="url(#bl3)"/>
<rect x="291.00" y="645.30" width="34.40" height="8.00" rx="3.36" fill="#111" opacity="1" filter="url(#bl1_5)"/>
<rect x="300.00" y="646.30" width="12.00" height="6.00" rx="2.52" fill="#444" opacity="0.7" filter="url(#bl2)"/>
<rect x="293.00" y="657.00" width="5.00" height="4.00" rx="1.68" fill="#333" opacity="0.7" filter="url(#bl1_2)"/>
<rect x="315.00" y="657.00" width="5.00" height="4.00" rx="1.68" fill="#555" opacity="0.6" filter="url(#bl1_2)"/>
<rect x="342.90" y="642.15" width="37.10" height="12.50" rx="3.75" fill="#000" opacity="0.22" filter="url(#bl3)"/>
<rect x="344.90" y="644.65" width="33.10" height="7.50" rx="3.15" fill="#080808" opacity="1" filter="url(#bl1_5)"/>
<rect x="231.60" y="627.60" width="158.10" height="38.20" filter="url(#noise)" opacity="0.15"/>
</g>
<clipPath id="cb3"><rect x="231.60" y="668.20" width="158.10" height="35.30"/></clipPath>
<g clip-path="url(#cb3)">
<rect x="231.60" y="668.20" width="158.10" height="35.30" fill="#c2c2c2"/>
<rect x="235.40" y="681.20" width="44.60" height="15.40" rx="5.20" fill="#000" opacity="0.22" filter="url(#bl3)"/>
<rect x="237.40" y="683.70" width="40.60" height="10.40" rx="4.37" fill="#000" opacity="1" filter="url(#bl1_5)"/>
<rect x="286.40" y="680.80" width="47.50" height="15.00" rx="5.00" fill="#000" opacity="0.22" filter="url(#bl3)"/>
<rect x="288.40" y="683.30" width="43.50" height="10.00" rx="4.20" fill="#000" opacity="1" filter="url(#bl1_5)"/>
<rect x="340.90" y="680.15" width="44.30" height="14.50" rx="4.75" fill="#000" opacity="0.22" filter="url(#bl3)"/>
<rect x="342.90" y="682.65" width="40.30" height="9.50" rx="3.99" fill="#000" opacity="1" filter="url(#bl1_5)"/>
<rect x="231.60" y="668.20" width="158.10" height="35.30" filter="url(#noise)" opacity="0.12"/>
</g>
<text x="227.90" y="617.30" font-size="18.5" text-anchor="end" >CEBPβ</text>
<text x="227.90" y="656.40" font-size="18.5" text-anchor="end" >YY1</text>
<text x="227.90" y="695.10" font-size="18.5" text-anchor="end" >GAPDH</text>
<text x="390.70" y="591.00" font-size="18.5" >-45</text>
<text x="390.70" y="661.50" font-size="18.5" >-60</text>
<text x="390.70" y="696.70" font-size="18.5" >-35</text>
<text x="465.10" y="553.60" font-size="24.5" font-weight="bold" >I</text>
<text x="678.50" y="554.20" font-size="18.5" text-anchor="middle" >D-Cla (μM)</text>
<line x1="599.00" y1="560.80" x2="763.60" y2="560.80" stroke="#000" stroke-width="1.4"/>
<text x="610.00" y="580.80" font-size="18.5" text-anchor="middle" >0</text>
<text x="651.40" y="580.80" font-size="18.5" text-anchor="middle" >50</text>
<text x="698.40" y="580.80" font-size="18.5" text-anchor="middle" >100</text>
<text x="744.60" y="580.80" font-size="18.5" text-anchor="middle" >200</text>
<text x="770.70" y="580.70" font-size="18.5" >kDa</text>
<clipPath id="cb4"><rect x="586.60" y="583.10" width="177.20" height="32.50"/></clipPath>
<g clip-path="url(#cb4)">
<rect x="586.60" y="583.10" width="177.20" height="32.50" fill="#d4d4d4"/>
<rect x="592.80" y="591.00" width="31.00" height="19.00" rx="7.00" fill="#000" opacity="0.22" filter="url(#bl3)"/>
<rect x="594.80" y="593.50" width="27.00" height="14.00" rx="5.88" fill="#3a3a3a" opacity="1" filter="url(#bl1_5)"/>
<rect x="595.00" y="594.00" width="26.50" height="5.00" rx="2.10" fill="#111" opacity="1" filter="url(#bl1_2)"/>
<rect x="592.80" y="597.75" width="31.00" height="12.50" rx="3.75" fill="#000" opacity="0.22" filter="url(#bl3)"/>
<rect x="594.80" y="600.25" width="27.00" height="7.50" rx="3.15" fill="#000" opacity="1" filter="url(#bl1_2)"/>
<rect x="640.10" y="594.50" width="24.40" height="5.00" rx="2.10" fill="#707070" opacity="1" filter="url(#bl1_5)"/>
<rect x="640.10" y="601.10" width="24.40" height="5.00" rx="2.10" fill="#111" opacity="1" filter="url(#bl1_2)"/>
<rect x="640.00" y="595.50" width="24.00" height="9.00" rx="3.78" fill="#999" opacity="0.6" filter="url(#bl2)"/>
<rect x="685.40" y="594.50" width="24.40" height="5.00" rx="2.10" fill="#9a9a9a" opacity="1" filter="url(#bl1_5)"/>
<rect x="685.40" y="601.35" width="24.40" height="4.50" rx="1.89" fill="#888" opacity="1" filter="url(#bl1_2)"/>
<rect x="731.50" y="594.50" width="24.40" height="5.00" rx="2.10" fill="#bababa" opacity="1" filter="url(#bl1_5)"/>
<rect x="731.50" y="601.35" width="24.40" height="4.50" rx="1.89" fill="#aaa" opacity="1" filter="url(#bl1_2)"/>
<rect x="586.60" y="583.10" width="177.20" height="32.50" filter="url(#noise)" opacity="0.08"/>
</g>
<clipPath id="cb5"><rect x="586.60" y="620.00" width="176.30" height="36.20"/></clipPath>
<g clip-path="url(#cb5)">
<rect x="586.60" y="620.00" width="176.30" height="36.20" fill="#cfcfcf"/>
<rect x="640.40" y="632.25" width="34.80" height="12.50" rx="3.75" fill="#000" opacity="0.22" filter="url(#bl3)"/>
<rect x="642.40" y="634.75" width="30.80" height="7.50" rx="3.15" fill="#000" opacity="1" filter="url(#bl1_2)"/>
<rect x="682.20" y="632.30" width="34.80" height="12.00" rx="3.50" fill="#000" opacity="0.22" filter="url(#bl3)"/>
<rect x="684.20" y="634.80" width="30.80" height="7.00" rx="2.94" fill="#050505" opacity="1" filter="url(#bl1_2)"/>
<rect x="724.30" y="634.75" width="35.40" height="11.50" rx="3.25" fill="#000" opacity="0.22" filter="url(#bl3)"/>
<rect x="726.30" y="637.25" width="31.40" height="6.50" rx="2.73" fill="#080808" opacity="1" filter="url(#bl1_2)"/>
<path d="M593 639.8 Q611 638.2 628 636.8 Q632.5 637 632 640.5 Q631.5 643.5 628 644 Q611 645.5 593 647.5 Q590 647 590 643.5 Q590 640 593 639.8 Z" fill="#000" filter="url(#bl1_2)"/>
<rect x="586.60" y="620.00" width="176.30" height="36.20" filter="url(#noise)" opacity="0.08"/>
</g>
<text x="584.00" y="607.80" font-size="18.5" text-anchor="end" >CEBPβ</text>
<text x="581.10" y="646.30" font-size="18.5" text-anchor="end" >GAPDH</text>
<text x="764.60" y="597.00" font-size="18.5" >-45</text>
<text x="764.60" y="653.50" font-size="18.5" >-35</text>
<text x="106.30" y="769.30" font-size="24.5" font-weight="bold" >J</text>
<text x="315.20" y="776.50" font-size="18.5" text-anchor="middle" >LY294002 (μM)</text>
<line x1="241.70" y1="783.30" x2="397.00" y2="783.30" stroke="#000" stroke-width="1.4"/>
<text x="238.30" y="804.70" font-size="18.5" text-anchor="middle" >0</text>
<text x="279.00" y="804.70" font-size="18.5" text-anchor="middle" >5</text>
<text x="328.90" y="804.70" font-size="18.5" text-anchor="middle" >10</text>
<text x="379.40" y="804.70" font-size="18.5" text-anchor="middle" >20</text>
<text x="406.40" y="804.70" font-size="18.5" >kDa</text>
<clipPath id="cb6"><rect x="221.00" y="812.10" width="182.40" height="45.20"/></clipPath>
<g clip-path="url(#cb6)">
<rect x="221.00" y="812.10" width="182.40" height="45.20" fill="#c0c0c0"/>
<rect x="223.00" y="807.10" width="33.00" height="55.20" fill="#acacac" opacity="1" filter="url(#bl3)"/>
<rect x="266.00" y="807.10" width="35.00" height="55.20" fill="#afafaf" opacity="1" filter="url(#bl3)"/>
<rect x="313.00" y="807.10" width="34.00" height="55.20" fill="#b0b0b0" opacity="1" filter="url(#bl3)"/>
<rect x="362.00" y="807.10" width="36.00" height="55.20" fill="#b3b3b3" opacity="1" filter="url(#bl3)"/>
<rect x="226.90" y="825.00" width="26.90" height="20.00" rx="8.40" fill="#555" opacity="1" filter="url(#bl2)"/>
<rect x="224.90" y="835.45" width="30.90" height="13.50" rx="4.25" fill="#000" opacity="0.22" filter="url(#bl3)"/>
<rect x="226.90" y="837.95" width="26.90" height="8.50" rx="3.57" fill="#050505" opacity="1" filter="url(#bl1_5)"/>
<rect x="226.90" y="822.85" width="26.90" height="5.50" rx="2.31" fill="#151515" opacity="1" filter="url(#bl1_5)"/>
<rect x="224.50" y="820.50" width="13.50" height="27.00" rx="11.00" fill="#000" opacity="0.20" filter="url(#bl3)"/>
<rect x="226.50" y="823.00" width="9.50" height="22.00" rx="4.75" fill="#111" opacity="0.9" filter="url(#bl2)"/>
<rect x="268.00" y="827.00" width="30.90" height="16.00" rx="6.72" fill="#666" opacity="1" filter="url(#bl2)"/>
<rect x="266.00" y="835.75" width="34.90" height="13.50" rx="4.25" fill="#000" opacity="0.22" filter="url(#bl3)"/>
<rect x="268.00" y="838.25" width="30.90" height="8.50" rx="3.57" fill="#0a0a0a" opacity="1" filter="url(#bl1_5)"/>
<rect x="268.00" y="824.70" width="30.90" height="5.00" rx="2.10" fill="#333" opacity="1" filter="url(#bl1_5)"/>
<rect x="315.60" y="827.00" width="29.60" height="16.00" rx="6.72" fill="#777" opacity="1" filter="url(#bl2)"/>
<rect x="313.60" y="837.75" width="33.60" height="11.50" rx="3.25" fill="#000" opacity="0.22" filter="url(#bl3)"/>
<rect x="315.60" y="840.25" width="29.60" height="6.50" rx="2.73" fill="#0a0a0a" opacity="1" filter="url(#bl1_5)"/>
<rect x="315.60" y="824.70" width="29.60" height="5.00" rx="2.10" fill="#333" opacity="1" filter="url(#bl1_5)"/>
<rect x="364.60" y="829.00" width="30.90" height="16.00" rx="6.72" fill="#9a9a9a" opacity="1" filter="url(#bl2)"/>
<rect x="364.60" y="842.35" width="30.90" height="4.50" rx="1.89" fill="#555" opacity="1" filter="url(#bl1_5)"/>
<rect x="364.60" y="827.50" width="30.90" height="4.00" rx="1.68" fill="#8a8a8a" opacity="1" filter="url(#bl1_5)"/>
<rect x="221.00" y="812.10" width="182.40" height="45.20" filter="url(#noise)" opacity="0.12"/>
</g>
<clipPath id="cb7"><rect x="221.00" y="862.80" width="182.40" height="42.00"/></clipPath>
<g clip-path="url(#cb7)">
<rect x="221.00" y="862.80" width="182.40" height="42.00" fill="#c8c8c8"/>
<rect x="223.30" y="875.00" width="42.70" height="19.00" rx="7.00" fill="#000" opacity="0.22" filter="url(#bl3)"/>
<rect x="225.30" y="877.50" width="38.70" height="14.00" rx="5.88" fill="#000" opacity="1" filter="url(#bl1_5)"/>
<rect x="258.00" y="872.45" width="52.00" height="23.50" rx="9.25" fill="#000" opacity="0.22" filter="url(#bl3)"/>
<rect x="260.00" y="874.95" width="48.00" height="18.50" rx="7.77" fill="#000" opacity="1" filter="url(#bl1_5)"/>
<rect x="303.00" y="872.15" width="50.20" height="20.50" rx="7.75" fill="#000" opacity="0.22" filter="url(#bl3)"/>
<rect x="305.00" y="874.65" width="46.20" height="15.50" rx="6.51" fill="#000" opacity="1" filter="url(#bl1_5)"/>
<rect x="356.30" y="872.95" width="46.70" height="18.50" rx="6.75" fill="#000" opacity="0.22" filter="url(#bl3)"/>
<rect x="358.30" y="875.45" width="42.70" height="13.50" rx="5.67" fill="#000" opacity="1" filter="url(#bl1_5)"/>
<rect x="229.00" y="871.50" width="14.00" height="9.00" rx="3.78" fill="#bdbdbd" opacity="1" filter="url(#bl2)"/>
<rect x="221.00" y="862.80" width="182.40" height="42.00" filter="url(#noise)" opacity="0.1"/>
</g>
<text x="215.50" y="837.80" font-size="18.5" text-anchor="end" >CEBPβ</text>
<text x="215.50" y="894.80" font-size="18.5" text-anchor="end" >GAPDH</text>
<line x1="404.60" y1="822.40" x2="408.20" y2="822.40" stroke="#000" stroke-width="1.6"/>
<text x="409.30" y="832.20" font-size="18.5" >45</text>
<line x1="404.60" y1="891.90" x2="408.20" y2="891.90" stroke="#000" stroke-width="1.6"/>
<text x="409.30" y="900.20" font-size="18.5" >35</text>
<text x="459.40" y="769.80" font-size="24.5" font-weight="bold" >K</text>
<text x="596.50" y="733.50" font-size="18.5" transform="rotate(-40 596.50 733.50)">PBS</text>
<text x="648.50" y="733.50" font-size="18.5" transform="rotate(-40 648.50 733.50)">D-Cla</text>
<text x="697.00" y="732.00" font-size="18.5" transform="rotate(-40 697.00 732.00)">LY</text>
<text x="737.50" y="733.50" font-size="18.5" transform="rotate(-40 737.50 733.50)">D-Cla+LY</text>
<text x="767.30" y="729.90" font-size="18.5" >kDa</text>
<clipPath id="cb8"><rect x="584.00" y="734.20" width="179.00" height="40.70"/></clipPath>
<g clip-path="url(#cb8)">
<rect x="584.00" y="734.20" width="179.00" height="40.70" fill="#d6d6d6"/>
<rect x="586.00" y="729.20" width="36.00" height="50.70" fill="#cacaca" opacity="1" filter="url(#bl2)"/>
<rect x="635.00" y="729.20" width="33.00" height="50.70" fill="#cccccc" opacity="1" filter="url(#bl2)"/>
<rect x="680.00" y="729.20" width="32.00" height="50.70" fill="#cecece" opacity="1" filter="url(#bl2)"/>
<rect x="591.00" y="748.50" width="28.60" height="14.00" rx="5.88" fill="#bbb" opacity="0.6" filter="url(#bl2)"/>
<rect x="591.00" y="760.70" width="28.60" height="5.00" rx="2.10" fill="#1a1a1a" opacity="1" filter="url(#bl1_2)"/>
<rect x="591.00" y="745.55" width="28.60" height="4.50" rx="1.89" fill="#8a8a8a" opacity="1" filter="url(#bl1_5)"/>
<rect x="638.10" y="748.50" width="27.10" height="14.00" rx="5.88" fill="#bbb" opacity="0.5" filter="url(#bl2)"/>
<rect x="638.10" y="760.90" width="27.10" height="5.00" rx="2.10" fill="#222" opacity="1" filter="url(#bl1_2)"/>
<rect x="653.00" y="758.50" width="14.20" height="11.00" rx="3.00" fill="#000" opacity="0.18" filter="url(#bl3)"/>
<rect x="655.00" y="761.00" width="10.20" height="6.00" rx="2.52" fill="#111" opacity="0.8" filter="url(#bl1_2)"/>
<rect x="638.00" y="745.55" width="27.00" height="4.50" rx="1.89" fill="#999" opacity="1" filter="url(#bl1_5)"/>
<rect x="682.30" y="748.50" width="27.10" height="14.00" rx="5.88" fill="#c0c0c0" opacity="0.5" filter="url(#bl2)"/>
<rect x="682.30" y="761.25" width="27.10" height="4.50" rx="1.89" fill="#555" opacity="1" filter="url(#bl1_2)"/>
<rect x="682.00" y="745.75" width="27.00" height="4.50" rx="1.89" fill="#b0b0b0" opacity="1" filter="url(#bl1_5)"/>
<rect x="725.00" y="762.00" width="28.60" height="4.00" rx="1.68" fill="#999" opacity="1" filter="url(#bl1_2)"/>
<rect x="725.00" y="745.75" width="28.00" height="4.50" rx="1.89" fill="#c0c0c0" opacity="1" filter="url(#bl1_5)"/>
<rect x="584.00" y="734.20" width="179.00" height="40.70" filter="url(#noise)" opacity="0.08"/>
</g>
<clipPath id="cb9"><rect x="584.00" y="778.30" width="179.00" height="45.70"/></clipPath>
<g clip-path="url(#cb9)">
<rect x="584.00" y="778.30" width="179.00" height="45.70" fill="#ececec"/>
<rect x="586.00" y="773.30" width="36.00" height="55.70" fill="#dddddd" opacity="1" filter="url(#bl2)"/>
<rect x="633.00" y="773.30" width="34.00" height="55.70" fill="#e0e0e0" opacity="1" filter="url(#bl2)"/>
<rect x="679.00" y="773.30" width="33.00" height="55.70" fill="#dedede" opacity="1" filter="url(#bl2)"/>
<rect x="586.00" y="795.75" width="36.00" height="12.50" rx="3.75" fill="#000" opacity="0.22" filter="url(#bl3)"/>
<rect x="588.00" y="798.25" width="32.00" height="7.50" rx="3.15" fill="#000" opacity="1" filter="url(#bl1_2)"/>
<rect x="634.00" y="800.05" width="31.00" height="4.50" rx="1.89" fill="#333" opacity="1" filter="url(#bl1_2)"/>
<rect x="634.00" y="799.80" width="14.00" height="5.00" rx="2.10" fill="#1a1a1a" opacity="0.8" filter="url(#bl1_2)"/>
<rect x="682.00" y="798.75" width="29.00" height="5.50" rx="2.31" fill="#444" opacity="1" filter="url(#bl1_2)"/>
<rect x="725.00" y="799.75" width="30.00" height="4.50" rx="1.89" fill="#aaa" opacity="1" filter="url(#bl1_2)"/>
<rect x="584.00" y="778.30" width="179.00" height="45.70" filter="url(#noise)" opacity="0.06"/>
</g>
<clipPath id="cb10"><rect x="584.00" y="826.80" width="179.00" height="33.40"/></clipPath>
<g clip-path="url(#cb10)">
<rect x="584.00" y="826.80" width="179.00" height="33.40" fill="#d0d0d0"/>
<rect x="584.00" y="821.80" width="35.50" height="43.40" fill="#a8a8a8" opacity="1" filter="url(#bl2)"/>
<rect x="632.00" y="821.80" width="35.00" height="43.40" fill="#afafaf" opacity="1" filter="url(#bl2)"/>
<rect x="680.00" y="821.80" width="34.50" height="43.40" fill="#ababab" opacity="1" filter="url(#bl2)"/>
<rect x="725.00" y="821.80" width="38.00" height="43.40" fill="#a6a6a6" opacity="1" filter="url(#bl2)"/>
<rect x="585.00" y="834.15" width="36.00" height="17.50" rx="6.25" fill="#000" opacity="0.22" filter="url(#bl3)"/>
<rect x="587.00" y="836.65" width="32.00" height="12.50" rx="5.25" fill="#000" opacity="1" filter="url(#bl1_2)"/>
<rect x="679.00" y="835.25" width="37.40" height="15.50" rx="5.25" fill="#000" opacity="0.22" filter="url(#bl3)"/>
<rect x="681.00" y="837.75" width="33.40" height="10.50" rx="4.41" fill="#000" opacity="1" filter="url(#bl1_2)"/>
<rect x="724.20" y="834.50" width="36.40" height="17.00" rx="6.00" fill="#000" opacity="0.22" filter="url(#bl3)"/>
<rect x="726.20" y="837.00" width="32.40" height="12.00" rx="5.04" fill="#000" opacity="1" filter="url(#bl1_2)"/>
<path d="M634 837.8 L648 837.5 Q658 839.5 666.4 841.3 L666.4 845.3 Q658 846.8 648 848.8 L634 848.5 Q630.5 843 634 837.8 Z" fill="#000" filter="url(#bl1_2)"/>
<rect x="584.00" y="826.80" width="179.00" height="33.40" filter="url(#noise)" opacity="0.1"/>
</g>
<clipPath id="cb11"><rect x="584.00" y="863.90" width="179.00" height="39.90"/></clipPath>
<g clip-path="url(#cb11)">
<rect x="584.00" y="863.90" width="179.00" height="39.90" fill="#c4c4c4"/>
<rect x="583.90" y="873.50" width="45.20" height="17.00" rx="6.00" fill="#000" opacity="0.22" filter="url(#bl3)"/>
<rect x="585.90" y="876.00" width="41.20" height="12.00" rx="5.04" fill="#000" opacity="1" filter="url(#bl1_2)"/>
<rect x="630.60" y="873.00" width="43.60" height="20.00" rx="7.50" fill="#000" opacity="0.22" filter="url(#bl3)"/>
<rect x="632.60" y="875.50" width="39.60" height="15.00" rx="6.30" fill="#000" opacity="1" filter="url(#bl1_2)"/>
<rect x="674.20" y="875.00" width="41.80" height="17.00" rx="6.00" fill="#000" opacity="0.22" filter="url(#bl3)"/>
<rect x="676.20" y="877.50" width="37.80" height="12.00" rx="5.04" fill="#000" opacity="1" filter="url(#bl1_2)"/>
<rect x="717.70" y="875.50" width="42.90" height="17.00" rx="6.00" fill="#000" opacity="0.22" filter="url(#bl3)"/>
<rect x="719.70" y="878.00" width="38.90" height="12.00" rx="5.04" fill="#000" opacity="1" filter="url(#bl1_2)"/>
<rect x="584.00" y="863.90" width="179.00" height="39.90" filter="url(#noise)" opacity="0.1"/>
</g>
<text x="579.10" y="765.00" font-size="18.5" text-anchor="end" >CEBPβ</text>
<text x="581.10" y="808.30" font-size="18.5" text-anchor="end" >p-AKT</text>
<text x="581.70" y="850.50" font-size="18.5" text-anchor="end" >AKT2</text>
<text x="581.70" y="892.40" font-size="18.5" text-anchor="end" >GAPDH</text>
<line x1="762.80" y1="743.60" x2="767.80" y2="743.60" stroke="#000" stroke-width="1.6"/>
<text x="769.00" y="751.20" font-size="18.5" >45</text>
<line x1="762.80" y1="801.70" x2="767.80" y2="801.70" stroke="#000" stroke-width="1.6"/>
<text x="771.50" y="808.30" font-size="18.5" >60</text>
<line x1="762.80" y1="841.70" x2="767.80" y2="841.70" stroke="#000" stroke-width="1.6"/>
<text x="769.60" y="848.30" font-size="18.5" >60</text>
<line x1="762.80" y1="897.90" x2="767.80" y2="897.90" stroke="#000" stroke-width="1.6"/>
<text x="772.40" y="900.70" font-size="18.5" >35</text>
<text x="824.00" y="553.90" font-size="24.5" font-weight="bold" >L</text>
<text x="1111.00" y="553.30" font-size="18.5" text-anchor="middle" >Flag-PAD1</text>
<line x1="1056.10" y1="562.60" x2="1163.50" y2="562.60" stroke="#000" stroke-width="1.4"/>
<text x="836.00" y="610.50" font-size="18.5" >HA-AKT2</text>
<text x="1168.50" y="615.80" font-size="18.5" >kDa</text>
<text x="940.00" y="617.00" font-size="18.5" transform="rotate(-45 940.00 617.00)">EV</text>
<text x="976.50" y="618.50" font-size="18.5" transform="rotate(-45 976.50 618.50)">WT</text>
<text x="1011.00" y="621.00" font-size="18.5" transform="rotate(-45 1011.00 621.00)">R202K</text>
<text x="1060.00" y="619.00" font-size="18.5" transform="rotate(-45 1060.00 619.00)">EV</text>
<text x="1100.50" y="619.50" font-size="18.5" transform="rotate(-45 1100.50 619.50)">WT</text>
<text x="1136.00" y="618.50" font-size="18.5" transform="rotate(-45 1136.00 618.50)">R202K</text>
<clipPath id="cb12"><rect x="916.40" y="619.30" width="248.80" height="38.50"/></clipPath>
<g clip-path="url(#cb12)">
<rect x="916.40" y="619.30" width="248.80" height="38.50" fill="#d4d4d4"/>
<rect x="923.40" y="630.00" width="31.50" height="4.00" rx="1.68" fill="#b2b2b2" opacity="1" filter="url(#bl1_5)"/>
<rect x="923.40" y="638.60" width="31.50" height="4.00" rx="1.68" fill="#a2a2a2" opacity="1" filter="url(#bl1_5)"/>
<rect x="966.00" y="629.75" width="28.00" height="4.50" rx="1.89" fill="#a4a4a4" opacity="1" filter="url(#bl1_5)"/>
<rect x="966.00" y="638.75" width="28.00" height="4.50" rx="1.89" fill="#969696" opacity="1" filter="url(#bl1_5)"/>
<rect x="1006.70" y="629.75" width="28.50" height="4.50" rx="1.89" fill="#a8a8a8" opacity="1" filter="url(#bl1_5)"/>
<rect x="1006.70" y="638.95" width="28.50" height="4.50" rx="1.89" fill="#999" opacity="1" filter="url(#bl1_5)"/>
<rect x="1020.00" y="639.25" width="15.20" height="4.50" rx="1.89" fill="#808080" opacity="1" filter="url(#bl1_5)"/>
<rect x="1046.90" y="629.75" width="28.80" height="4.50" rx="1.89" fill="#a6a6a6" opacity="1" filter="url(#bl1_5)"/>
<rect x="1046.90" y="638.75" width="28.80" height="4.50" rx="1.89" fill="#a4a4a4" opacity="1" filter="url(#bl1_5)"/>
<rect x="1087.40" y="627.50" width="28.00" height="6.00" rx="2.52" fill="#808080" opacity="1" filter="url(#bl2)"/>
<rect x="1087.40" y="638.75" width="28.00" height="5.50" rx="2.31" fill="#0a0a0a" opacity="1" filter="url(#bl1_2)"/>
<rect x="1099.00" y="640.00" width="4.00" height="3.00" rx="1.26" fill="#444" opacity="1" filter="url(#bl1)"/>
<rect x="1127.80" y="631.00" width="30.90" height="4.00" rx="1.68" fill="#c2c2c2" opacity="1" filter="url(#bl1_5)"/>
<rect x="1127.80" y="641.75" width="30.90" height="4.50" rx="1.89" fill="#6a6a6a" opacity="1" filter="url(#bl1_5)"/>
<rect x="916.40" y="619.30" width="248.80" height="38.50" filter="url(#noise)" opacity="0.08"/>
</g>
<clipPath id="cb13"><rect x="916.40" y="661.00" width="248.80" height="29.30"/></clipPath>
<g clip-path="url(#cb13)">
<rect x="916.40" y="661.00" width="248.80" height="29.30" fill="#d6d6d6"/>
<rect x="914" y="660" width="12" height="32" fill="#7a7a7a" opacity="0.6" filter="url(#bl3)"/><rect x="916" y="687" width="250" height="4" fill="#aaa" opacity="0.5" filter="url(#bl1)"/>
<rect x="923.00" y="675.75" width="32.00" height="3.50" rx="1.47" fill="#b6b6b6" opacity="1" filter="url(#bl1_2)"/>
<rect x="966.00" y="675.75" width="29.00" height="3.50" rx="1.47" fill="#8e8e8e" opacity="1" filter="url(#bl1_2)"/>
<rect x="966.00" y="675.50" width="12.00" height="4.00" rx="1.68" fill="#777" opacity="1" filter="url(#bl1_2)"/>
<rect x="1007.00" y="675.75" width="11.00" height="3.50" rx="1.47" fill="#a0a0a0" opacity="1" filter="url(#bl1_2)"/>
<rect x="1020.00" y="675.50" width="15.00" height="4.00" rx="1.68" fill="#5a5a5a" opacity="1" filter="url(#bl1_2)"/>
<rect x="1047.00" y="675.75" width="30.00" height="3.50" rx="1.47" fill="#a4a4a4" opacity="1" filter="url(#bl1_2)"/>
<rect x="1087.00" y="674.75" width="33.00" height="5.50" rx="2.31" fill="#000" opacity="1" filter="url(#bl1_2)"/>
<rect x="1085.00" y="672.50" width="13.00" height="12.00" rx="3.50" fill="#000" opacity="0.22" filter="url(#bl3)"/>
<rect x="1087.00" y="675.00" width="9.00" height="7.00" rx="2.94" fill="#000" opacity="1" filter="url(#bl1_2)"/>
<rect x="1130.00" y="675.75" width="30.00" height="3.50" rx="1.47" fill="#757575" opacity="1" filter="url(#bl1_2)"/>
<rect x="916.40" y="661.00" width="248.80" height="29.30" filter="url(#noise)" opacity="0.06"/>
</g>
<clipPath id="cb14"><rect x="916.40" y="694.40" width="248.80" height="34.40"/></clipPath>
<g clip-path="url(#cb14)">
<rect x="916.40" y="694.40" width="248.80" height="34.40" fill="#bcbcbc"/>
<rect x="925.00" y="710.70" width="28.00" height="3.20" rx="1.34" fill="#6a6a6a" opacity="1" filter="url(#bl1)"/>
<rect x="963.00" y="710.60" width="31.00" height="3.40" rx="1.43" fill="#707070" opacity="1" filter="url(#bl1)"/>
<rect x="1006.00" y="710.50" width="29.00" height="4.00" rx="1.68" fill="#505050" opacity="1" filter="url(#bl1)"/>
<rect x="1047.00" y="711.10" width="27.00" height="3.40" rx="1.43" fill="#606060" opacity="1" filter="url(#bl1)"/>
<rect x="1087.00" y="710.30" width="31.00" height="5.00" rx="2.10" fill="#0a0a0a" opacity="1" filter="url(#bl1_2)"/>
<rect x="1130.00" y="711.10" width="28.00" height="3.40" rx="1.43" fill="#6e6e6e" opacity="1" filter="url(#bl1)"/>
<rect x="916.40" y="694.40" width="248.80" height="34.40" filter="url(#noise)" opacity="0.16"/>
</g>
<clipPath id="cb15"><rect x="916.40" y="730.80" width="248.80" height="42.60"/></clipPath>
<g clip-path="url(#cb15)">
<rect x="916.40" y="730.80" width="248.80" height="42.60" fill="#c8c8c8"/>
<rect x="920.80" y="746.70" width="35.50" height="13.00" rx="4.00" fill="#000" opacity="0.22" filter="url(#bl3)"/>
<rect x="922.80" y="749.20" width="31.50" height="8.00" rx="3.36" fill="#151515" opacity="1" filter="url(#bl1_2)"/>
<rect x="961.90" y="740.50" width="35.50" height="22.00" rx="8.50" fill="#000" opacity="0.22" filter="url(#bl3)"/>
<rect x="963.90" y="743.00" width="31.50" height="17.00" rx="7.14" fill="#000" opacity="1" filter="url(#bl1_2)"/>
<rect x="1000.20" y="742.70" width="39.80" height="21.00" rx="8.00" fill="#000" opacity="0.22" filter="url(#bl3)"/>
<rect x="1002.20" y="745.20" width="35.80" height="16.00" rx="6.72" fill="#000" opacity="1" filter="url(#bl1_2)"/>
<rect x="1047.50" y="750.55" width="27.20" height="5.50" rx="2.31" fill="#333" opacity="1" filter="url(#bl1_2)"/>
<rect x="1081.90" y="742.95" width="40.10" height="20.50" rx="7.75" fill="#000" opacity="0.22" filter="url(#bl3)"/>
<rect x="1083.90" y="745.45" width="36.10" height="15.50" rx="6.51" fill="#000" opacity="1" filter="url(#bl1_2)"/>
<rect x="1124.10" y="742.25" width="39.00" height="21.50" rx="8.25" fill="#000" opacity="0.22" filter="url(#bl3)"/>
<rect x="1126.10" y="744.75" width="35.00" height="16.50" rx="6.93" fill="#000" opacity="1" filter="url(#bl1_2)"/>
<rect x="916.40" y="730.80" width="248.80" height="42.60" filter="url(#noise)" opacity="0.08"/>
</g>
<clipPath id="cb16"><rect x="916.40" y="777.50" width="248.80" height="36.00"/></clipPath>
<g clip-path="url(#cb16)">
<rect x="916.40" y="777.50" width="248.80" height="36.00" fill="#cfcfcf"/>
<rect x="963.20" y="785.50" width="34.80" height="21.00" rx="8.00" fill="#000" opacity="0.22" filter="url(#bl3)"/>
<rect x="965.20" y="788.00" width="30.80" height="16.00" rx="6.72" fill="#000" opacity="1" filter="url(#bl1_2)"/>
<rect x="1002.70" y="785.50" width="36.90" height="21.00" rx="8.00" fill="#000" opacity="0.22" filter="url(#bl3)"/>
<rect x="1004.70" y="788.00" width="32.90" height="16.00" rx="6.72" fill="#000" opacity="1" filter="url(#bl1_2)"/>
<rect x="1079.90" y="785.75" width="42.50" height="21.50" rx="8.25" fill="#000" opacity="0.22" filter="url(#bl3)"/>
<rect x="1081.90" y="788.25" width="38.50" height="16.50" rx="6.93" fill="#000" opacity="1" filter="url(#bl1_2)"/>
<rect x="1122.50" y="785.45" width="39.60" height="21.50" rx="8.25" fill="#000" opacity="0.22" filter="url(#bl3)"/>
<rect x="1124.50" y="787.95" width="35.60" height="16.50" rx="6.93" fill="#000" opacity="1" filter="url(#bl1_2)"/>
<rect x="916.40" y="777.50" width="248.80" height="36.00" filter="url(#noise)" opacity="0.06"/>
</g>
<clipPath id="cb17"><rect x="916.40" y="818.00" width="248.80" height="34.60"/></clipPath>
<g clip-path="url(#cb17)">
<rect x="916.40" y="818.00" width="248.80" height="34.60" fill="#d4d4d4"/>
<rect x="1045.50" y="821.55" width="36.30" height="25.50" rx="10.25" fill="#000" opacity="0.22" filter="url(#bl3)"/>
<rect x="1047.50" y="824.05" width="32.30" height="20.50" rx="8.61" fill="#000" opacity="1" filter="url(#bl1_2)"/>
<rect x="1082.60" y="826.70" width="42.40" height="20.00" rx="7.50" fill="#000" opacity="0.22" filter="url(#bl3)"/>
<rect x="1084.60" y="829.20" width="38.40" height="15.00" rx="6.30" fill="#000" opacity="1" filter="url(#bl1_2)"/>
<rect x="1127.80" y="825.70" width="37.00" height="21.00" rx="8.00" fill="#000" opacity="0.22" filter="url(#bl3)"/>
<rect x="1129.80" y="828.20" width="33.00" height="16.00" rx="6.72" fill="#000" opacity="1" filter="url(#bl1_2)"/>
<rect x="916.40" y="818.00" width="248.80" height="34.60" filter="url(#noise)" opacity="0.06"/>
</g>
<clipPath id="cb18"><rect x="916.40" y="856.30" width="248.80" height="39.60"/></clipPath>
<g clip-path="url(#cb18)">
<rect x="916.40" y="856.30" width="248.80" height="39.60" fill="#cacaca"/>
<rect x="917.90" y="866.50" width="39.00" height="20.00" rx="7.50" fill="#000" opacity="0.22" filter="url(#bl3)"/>
<rect x="919.90" y="869.00" width="35.00" height="15.00" rx="6.30" fill="#000" opacity="1" filter="url(#bl1_2)"/>
<rect x="957.80" y="867.50" width="40.20" height="20.00" rx="7.50" fill="#000" opacity="0.22" filter="url(#bl3)"/>
<rect x="959.80" y="870.00" width="36.20" height="15.00" rx="6.30" fill="#000" opacity="1" filter="url(#bl1_2)"/>
<rect x="997.50" y="867.75" width="40.50" height="19.50" rx="7.25" fill="#000" opacity="0.22" filter="url(#bl3)"/>
<rect x="999.50" y="870.25" width="36.50" height="14.50" rx="6.09" fill="#000" opacity="1" filter="url(#bl1_2)"/>
<rect x="1041.80" y="868.50" width="35.90" height="19.00" rx="7.00" fill="#000" opacity="0.22" filter="url(#bl3)"/>
<rect x="1043.80" y="871.00" width="31.90" height="14.00" rx="5.88" fill="#000" opacity="1" filter="url(#bl1_2)"/>
<rect x="1076.80" y="866.80" width="47.20" height="21.00" rx="8.00" fill="#000" opacity="0.22" filter="url(#bl3)"/>
<rect x="1078.80" y="869.30" width="43.20" height="16.00" rx="6.72" fill="#000" opacity="1" filter="url(#bl1_2)"/>
<rect x="1124.60" y="867.30" width="39.60" height="20.00" rx="7.50" fill="#000" opacity="0.22" filter="url(#bl3)"/>
<rect x="1126.60" y="869.80" width="35.60" height="15.00" rx="6.30" fill="#000" opacity="1" filter="url(#bl1_2)"/>
<rect x="916.40" y="856.30" width="248.80" height="39.60" filter="url(#noise)" opacity="0.08"/>
</g>
<text x="913.80" y="645.70" font-size="18.5" text-anchor="end" >CEBPβ</text>
<text x="913.80" y="684.00" font-size="18.5" text-anchor="end" >Cit202</text>
<text x="913.80" y="719.20" font-size="18.5" text-anchor="end" >p-AKT</text>
<text x="913.80" y="759.10" font-size="18.5" text-anchor="end" >AKT2</text>
<text x="913.80" y="803.00" font-size="18.5" text-anchor="end" >HA</text>
<text x="913.80" y="842.30" font-size="18.5" text-anchor="end" >Flag</text>
<text x="913.80" y="886.20" font-size="18.5" text-anchor="end" >GAPDH</text>
<line x1="1165.50" y1="628.70" x2="1170.50" y2="628.70" stroke="#000" stroke-width="1.6"/>
<text x="1171.40" y="636.80" font-size="18.5" >45</text>
<line x1="1165.50" y1="676.70" x2="1170.50" y2="676.70" stroke="#000" stroke-width="1.6"/>
<text x="1172.10" y="684.10" font-size="18.5" >60</text>
<line x1="1165.50" y1="713.00" x2="1170.50" y2="713.00" stroke="#000" stroke-width="1.6"/>
<text x="1173.70" y="719.00" font-size="18.5" >60</text>
<line x1="1165.50" y1="753.60" x2="1170.50" y2="753.60" stroke="#000" stroke-width="1.6"/>
<text x="1174.40" y="759.90" font-size="18.5" >60</text>
<line x1="1165.50" y1="796.50" x2="1170.50" y2="796.50" stroke="#000" stroke-width="1.6"/>
<text x="1174.40" y="803.50" font-size="18.5" >60</text>
<line x1="1165.50" y1="835.20" x2="1170.50" y2="835.20" stroke="#000" stroke-width="1.6"/>
<text x="1173.10" y="841.90" font-size="18.5" >75</text>
<line x1="1165.50" y1="886.60" x2="1170.50" y2="886.60" stroke="#000" stroke-width="1.6"/>
<text x="1174.40" y="895.50" font-size="18.5" >35</text>
</svg>
</body></html>
